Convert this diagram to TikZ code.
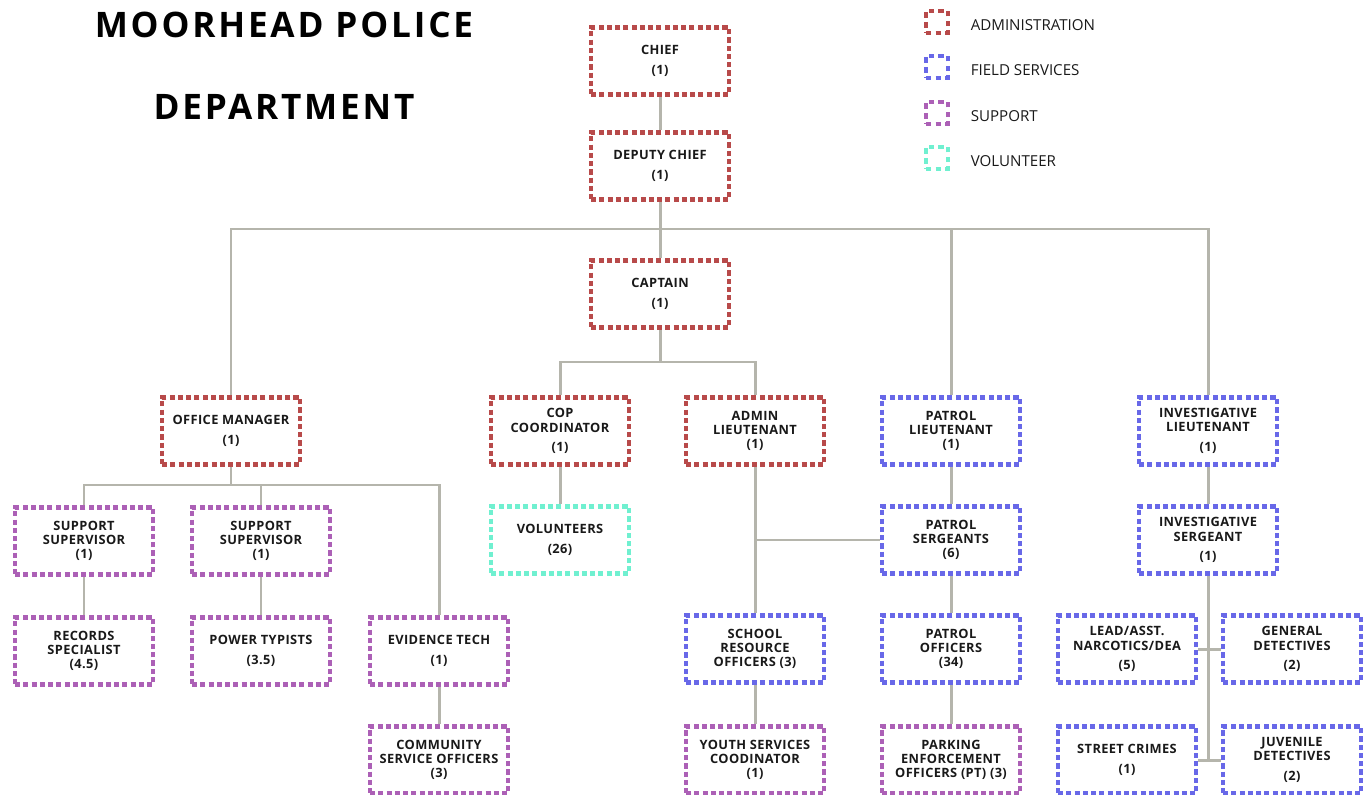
\documentclass[tikz,border=0pt]{standalone}
\usepackage{fontspec}
\setmainfont{Open Sans}
\newfontfamily\titlefont[LetterSpace=8]{Open Sans}
\newfontfamily\boxfont[LetterSpace=3]{Open Sans}
\usetikzlibrary{positioning}
\definecolor{admin}{RGB}{184,74,74}
\definecolor{field}{RGB}{104,104,232}
\definecolor{support}{RGB}{172,96,182}
\definecolor{volunteer}{RGB}{112,240,208}
\definecolor{linegray}{RGB}{181,181,172}
\definecolor{boxtext}{RGB}{25,25,25}

\begin{document}
\begin{tikzpicture}[x=0.02cm, y=-0.02cm,
    unit/.style={draw, line width=2.5pt, dash pattern=on 2.9pt off 1.8pt,
        minimum width=2.76cm, minimum height=1.34cm, align=center, text=boxtext,
        font=\boxfont\bfseries\fontsize{7.3}{8}\selectfont},
    adm/.style={unit, draw=admin},
    fld/.style={unit, draw=field},
    sup/.style={unit, draw=support},
    vol/.style={unit, draw=volunteer},
    link/.style={draw=linegray, line width=1.7pt},
    legendbox/.style={draw, line width=2.5pt, dash pattern=on 3.2pt off 2.4pt,
        minimum size=0.45cm, inner sep=0pt},
    legendtext/.style={inner sep=0pt, text=boxtext, font=\fontsize{8.6}{10}\selectfont},
    ]
\useasboundingbox (0,0) rectangle (1365,794);

\node[font=\titlefont\bfseries\fontsize{20}{24}\selectfont] (title1) at (284,25) {MOORHEAD POLICE};
\node[font=\titlefont\bfseries\fontsize{20}{24}\selectfont] (title2) at (284,107) {DEPARTMENT};

\foreach \ly/\lc/\lt in {22/admin/ADMINISTRATION, 67/field/FIELD SERVICES,
    113/support/SUPPORT, 158/volunteer/VOLUNTEER}{
    \node[legendbox, draw=\lc] (key-\lc) at (937,\ly) {};
    \node[legendtext, right=0.4cm of key-\lc, yshift=-1.5pt] (lbl-\lc) {\lt};
}

\node[adm] (chief) at (660,61) {CHIEF\\[3pt](1)};
\node[adm] (deputy) at (660,166) {DEPUTY CHIEF\\[3pt](1)};
\node[adm] (captain) at (660,294) {CAPTAIN\\[3pt](1)};

\node[adm] (officemgr) at (231,431) {OFFICE MANAGER\\[3pt](1)};
\node[adm] (cop) at (560,431) {COP\\COORDINATOR\\[3pt](1)};
\node[adm] (adminlt) at (755,431) {ADMIN\\LIEUTENANT\\(1)};
\node[fld] (patrollt) at (951,431) {PATROL\\LIEUTENANT\\(1)};
\node[fld] (invlt) at (1208,431) {INVESTIGATIVE\\LIEUTENANT\\[3pt](1)};

\node[sup] (supsup1) at (84,541) {SUPPORT\\SUPERVISOR\\(1)};
\node[sup] (supsup2) at (261,541) {SUPPORT\\SUPERVISOR\\(1)};
\node[vol] (volunteers) at (560,540) {VOLUNTEERS\\[3pt](26)};
\node[fld] (patrolsgt) at (951,540) {PATROL\\SERGEANTS\\(6)};
\node[fld] (invsgt) at (1208,540) {INVESTIGATIVE\\SERGEANT\\[3pt](1)};

\node[sup] (records) at (84,651) {RECORDS\\SPECIALIST\\(4.5)};
\node[sup] (typists) at (261,651) {POWER TYPISTS\\[3pt](3.5)};
\node[sup] (evidence) at (439,651) {EVIDENCE TECH\\[3pt](1)};
\node[fld] (sro) at (755,649) {SCHOOL\\RESOURCE\\OFFICERS (3)};
\node[fld] (patrolofc) at (951,649) {PATROL\\OFFICERS\\(34)};
\node[fld] (narcotics) at (1127,649) {LEAD/ASST.\\NARCOTICS/DEA\\[3pt](5)};
\node[fld] (gendet) at (1292,649) {GENERAL\\DETECTIVES\\[3pt](2)};

\node[sup] (csos) at (439,760) {COMMUNITY\\SERVICE OFFICERS\\(3)};
\node[sup] (youth) at (755,760) {YOUTH SERVICES\\COODINATOR\\(1)};
\node[sup] (parking) at (951,760) {PARKING\\ENFORCEMENT\\OFFICERS (PT) (3)};
\node[fld] (streetcrimes) at (1127,760) {STREET CRIMES\\[3pt](1)};
\node[fld] (juvdet) at (1292,760) {JUVENILE\\DETECTIVES\\[3pt](2)};

\coordinate (bus1) at (660,229);
\coordinate (bus2) at (660,362);
\coordinate (bus3) at (231,485);

\draw[link] (chief) -- (deputy);
\draw[link] (deputy) -- (bus1) -- (captain);
\draw[link] (officemgr) |- (bus1) -| (invlt);
\draw[link] (patrollt) -- (patrollt |- bus1);

\draw[link] (captain) -- (bus2);
\draw[link] (cop) |- (bus2) -| (adminlt);
\draw[link] (cop) -- (volunteers);
\draw[link] (adminlt) -- (sro);
\draw[link] (patrolsgt) -- (patrolsgt -| adminlt);
\draw[link] (sro) -- (youth);

\draw[link] (officemgr) -- (bus3);
\draw[link] (supsup1) |- (bus3) -| (evidence);
\draw[link] (supsup2) -- (supsup2 |- bus3);
\draw[link] (supsup1) -- (records);
\draw[link] (supsup2) -- (typists);
\draw[link] (evidence) -- (csos);

\draw[link] (patrollt) -- (patrolsgt);
\draw[link] (patrolsgt) -- (patrolofc);
\draw[link] (patrolofc) -- (parking);

\draw[link] (invlt) -- (invsgt);
\draw[link] (invsgt) -- (invsgt |- juvdet);
\draw[link] (narcotics) -- (gendet);
\draw[link] (streetcrimes) -- (juvdet);
\end{tikzpicture}
\end{document}
